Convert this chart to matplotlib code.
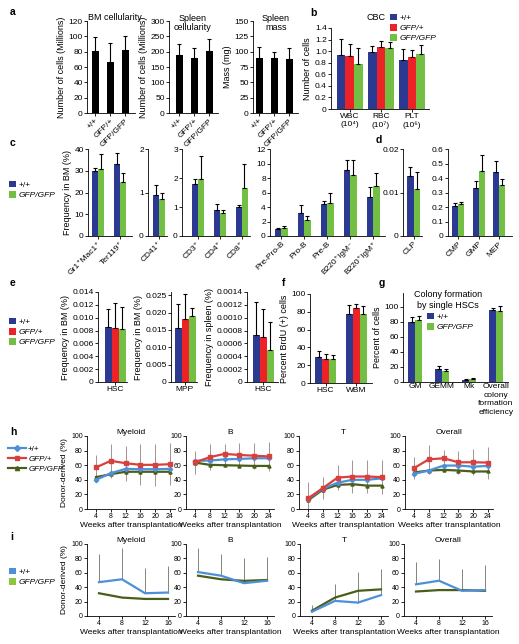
import numpy as np
import matplotlib
matplotlib.use('Agg')
from matplotlib import pyplot as plt
from matplotlib.patches import Patch
from matplotlib.lines import Line2D
from matplotlib.ticker import FuncFormatter

plt.rcParams['font.family'] = ['Liberation Sans', 'DejaVu Sans']
plt.rcParams['font.size'] = 6
plt.rcParams['axes.linewidth'] = 0.6

# ---- data ----
geno = ['+/+', 'GFP/+', 'GFP/GFP']
bm_cell = [81, 67, 82]
bm_cell_up = [99, 91, 100]
spl_cell = [189, 179, 202]
spl_cell_up = [225, 212, 241]
spl_mass = [89, 89, 88]
spl_mass_up = [107, 99, 106]

cbc_cats = ['WBC\n(10\u2074)', 'RBC\n(10\u2077)', 'PLT\n(10\u2076)']
cbc_wt = [0.93, 0.98, 0.85]
cbc_wt_up = [1.21, 1.09, 1.03]
cbc_het = [0.92, 1.07, 0.90]
cbc_het_up = [1.12, 1.17, 1.02]
cbc_hom = [0.78, 1.05, 0.95]
cbc_hom_up = [1.05, 1.15, 1.10]

myel_cats = ['Gr1\u207aMac1\u207a', 'Ter119\u207a']
myel_wt = [30.1, 33.2]
myel_wt_up = [31.2, 38.1]
myel_hom = [30.7, 25.0]
myel_hom_up = [37.8, 28.9]

mk_cats = ['CD41\u207a']
mk_wt = [0.94]
mk_wt_up = [1.17]
mk_hom = [0.86]
mk_hom_up = [1.0]

t_cats = ['CD3\u207a', 'CD4\u207a', 'CD8\u207a']
t_wt = [1.80, 0.89, 1.01]
t_wt_up = [1.97, 1.09, 1.07]
t_hom = [1.96, 0.80, 1.67]
t_hom_up = [2.77, 0.91, 2.49]

b_cats = ['Pre-Pro-B', 'Pro-B', 'Pre-B', 'B220\u207aIgM\u207b', 'B220\u207aIgM\u207a']
b_wt = [1.0, 3.2, 4.35, 9.1, 5.4]
b_wt_up = [1.16, 4.26, 4.8, 10.5, 6.7]
b_hom = [1.06, 2.22, 4.54, 8.38, 6.9]
b_hom_up = [1.43, 2.73, 5.88, 10.5, 8.75]

clp_cats = ['CLP']
clp_wt = [0.0137]
clp_wt_up = [0.0158]
clp_hom = [0.0107]
clp_hom_up = [0.0148]

prog_cats = ['CMP', 'GMP', 'MEP']
prog_wt = [0.208, 0.329, 0.44]
prog_wt_up = [0.229, 0.382, 0.514]
prog_hom = [0.218, 0.445, 0.352]
prog_hom_up = [0.236, 0.56, 0.394]

hsc_bm = [0.0086, 0.0084, 0.0083]
hsc_bm_up = [0.0113, 0.0123, 0.0117]
mpp_bm = [0.0155, 0.0181, 0.0190]
mpp_bm_up = [0.0224, 0.0253, 0.0213]
hsc_spl = [0.00073, 0.00070, 0.00050]
hsc_spl_up = [0.00124, 0.00114, 0.00093]

brdu_cats = ['HSC', 'WBM']
brdu_wt = [29.3, 77.0]
brdu_wt_up = [36.0, 87.6]
brdu_het = [27.4, 83.8]
brdu_het_up = [33.0, 88.7]
brdu_hom = [27.4, 78.0]
brdu_hom_up = [32.0, 86.8]

col_cats = ['GM', 'GEMM', 'Mk', 'Overall\ncolony\nformation\nefficiency']
col_wt = [78.9, 17.2, 3.1, 95.6]
col_wt_up = [85.9, 21.6, 4.4, 97.8]
col_hom = [82.4, 15.0, 3.5, 94.3]
col_hom_up = [87.7, 17.2, 5.3, 100.9]

weeks_h = [4, 8, 12, 16, 20, 24]
h_titles = ['Myeloid', 'B', 'T', 'Overall']
h_wt = [[40, 49, 55, 54.5, 54.5, 55],
        [66, 66.4, 68, 68.6, 69.5, 69.5],
        [13.6, 27.7, 36, 40, 40, 42],
        [48, 52.7, 59.5, 59.5, 58, 59]]
h_het = [[57, 66, 62.7, 60.5, 60.5, 61.4],
         [64, 71, 75.5, 74, 73, 72],
         [14.5, 28.6, 43, 44.5, 44.5, 43.6],
         [56, 68, 69.5, 64, 64, 63.6]]
h_hom = [[43.6, 47.7, 51, 51, 51, 51],
         [63.6, 60.5, 60, 59.5, 59, 59],
         [11.8, 26.4, 33, 34, 32, 32],
         [50, 52.7, 53.6, 52.7, 51.4, 51.4]]
h_het_err = [[17, 23, 24, 28, 29, 29],
             [16, 18, 14, 17, 18, 20],
             [23, 15, 17, 22, 22, 23],
             [15, 20, 11, 16, 18, 22]]

weeks_i = [4, 8, 12, 16]
i_wt = [[47, 51, 31.6, 32.6],
        [61, 56, 45.6, 49],
        [6, 21, 18.6, 29],
        [44, 49, 35, 36]]
i_hom = [[31.6, 25.6, 23.7, 23.7],
         [56, 51, 48.8, 50],
         [7.4, 25.6, 35, 37],
         [34, 36, 36, 35]]
i_up = [[86, 94.4, 66.5, 69],
        [95, 86.5, 81, 82],
        [15.3, 44.6, 60.5, 65],
        [74.4, 79, 65.6, 70.2]]

# ---- layout helpers (pixel boxes) ----
W, H = 519, 644
fig = plt.figure(figsize=(W / 100, H / 100), dpi=100)

BLUE, RED, GREEN = '#2b3990', '#ec2227', '#72bf44'
LBLUE, LRED, LGREEN = '#4d90d8', '#d8403e', '#4a5e1c'


def ftext(x, y, s, **kw):
    kw.setdefault('ha', 'center')
    kw.setdefault('va', 'center')
    return fig.text(x / W, 1 - y / H, s, **kw)


def px_axes(box, labelsize=6):
    l, t, r, b = box
    ax = fig.add_axes([l / W, 1 - b / H, (r - l) / W, (b - t) / H])
    for s in ('top', 'right'):
        ax.spines[s].set_visible(False)
    ax.tick_params(length=2, width=0.6, pad=1, labelsize=labelsize)
    return ax


def fmt(spec):
    return FuncFormatter(lambda v, _: '0' if abs(v) < 1e-12 else spec.format(v))


def rotate(ax):
    for lab in ax.get_xticklabels():
        lab.set_rotation(45)
        lab.set_ha('right')
        lab.set_rotation_mode('anchor')


def bar_panel(box, c0, ppu, bw, series, colors, cats, ylim, yticks, yfmt='{:g}', ylabel=None):
    l, t, r, b = box
    ax = px_axes(box)
    x = np.arange(len(cats))
    w = bw / ppu
    n = len(series)
    for i, ((m, u), c) in enumerate(zip(series, colors)):
        m = np.asarray(m, float)
        u = np.asarray(u, float)
        ax.bar(x + (i - (n - 1) / 2) * w, m, w, color=c,
               yerr=[np.zeros_like(m), u - m],
               error_kw=dict(ecolor='black', elinewidth=0.8, capsize=1.2, capthick=0.8))
    ax.set_xlim((l - c0) / ppu, (r - c0) / ppu)
    ax.set_ylim(*ylim)
    ax.set_yticks(yticks)
    ax.yaxis.set_major_formatter(fmt(yfmt))
    ax.set_xticks(x)
    ax.set_xticklabels(cats)
    if ylabel:
        ax.set_ylabel(ylabel, fontsize=6.5, labelpad=2)
    return ax


def legend(handles, labels, x, y, italic=(), **kw):
    opts = dict(loc='upper left', bbox_to_anchor=(x / W, 1 - y / H), frameon=False,
                fontsize=6, handlelength=0.8, handleheight=0.8, handletextpad=0.4,
                labelspacing=0.25, borderpad=0, borderaxespad=0)
    opts.update(kw)
    leg = fig.legend(handles, labels, **opts)
    for i in italic:
        leg.get_texts()[i].set_style('italic')
    return leg


def sq(c):
    return Patch(facecolor=c, edgecolor='none')


# ---- panel a ----
black = ['black']
ax = bar_panel((87, 21, 135, 113), 95, 15, 7, [(bm_cell, bm_cell_up)], black, geno,
               (0, 120), range(0, 121, 20), ylabel='Number of cells (Millions)')
rotate(ax)
ftext(115, 18, 'BM cellularity', fontsize=6.5)
ax = bar_panel((169, 21, 218, 113), 179, 15, 7, [(spl_cell, spl_cell_up)], black, geno,
               (0, 300), range(0, 301, 50), ylabel='Number of cells (Millions)')
rotate(ax)
ftext(193, 23, 'Spleen\ncellularity', fontsize=6.5, linespacing=1.1)
ax = bar_panel((253, 21, 298, 113), 259, 15, 7, [(spl_mass, spl_mass_up)], black, geno,
               (0, 150), range(0, 151, 25), ylabel='Mass (mg)')
rotate(ax)
ftext(276, 23, 'Spleen\nmass', fontsize=6.5, linespacing=1.1)

# ---- panel b ----
bar_panel((331, 28, 429, 109), 349.7, 31.2, 8.7,
          [(cbc_wt, cbc_wt_up), (cbc_het, cbc_het_up), (cbc_hom, cbc_hom_up)],
          [BLUE, RED, GREEN], cbc_cats, (0, 1.4), np.arange(0, 1.41, 0.2), '{:.1f}',
          ylabel='Number of cells')
ftext(376, 18, 'CBC', fontsize=6.5)
legend([sq(BLUE), sq(RED), sq(GREEN)], geno, 390, 14, italic=(1, 2))

# ---- panel c ----
ct, cb = 149, 236
rot = []
rot.append(bar_panel((88, ct, 132, cb), 98, 22, 6, [(myel_wt, myel_wt_up), (myel_hom, myel_hom_up)],
                     [BLUE, GREEN], myel_cats, (0, 40), range(0, 41, 10), ylabel='Frequency in BM (%)'))
rot.append(bar_panel((148, ct, 167, cb), 158.5, 22, 6, [(mk_wt, mk_wt_up), (mk_hom, mk_hom_up)],
                     [BLUE, GREEN], mk_cats, (0, 2), [0, 1, 2]))
rot.append(bar_panel((182, ct, 250, cb), 197.5, 22, 6, [(t_wt, t_wt_up), (t_hom, t_hom_up)],
                     [BLUE, GREEN], t_cats, (0, 3), [0, 1, 2, 3]))
rot.append(bar_panel((270, ct, 385, cb), 281, 23, 6.5, [(b_wt, b_wt_up), (b_hom, b_hom_up)],
                     [BLUE, GREEN], b_cats, (0, 12), range(0, 13, 2)))
# ---- panel d ----
rot.append(bar_panel((403, ct, 422, cb), 413.5, 22, 6.5, [(clp_wt, clp_wt_up), (clp_hom, clp_hom_up)],
                     [BLUE, GREEN], clp_cats, (0, 0.02), [0, 0.01, 0.02], '{:.2f}'))
rot.append(bar_panel((448, ct, 512, cb), 458, 20.5, 6, [(prog_wt, prog_wt_up), (prog_hom, prog_hom_up)],
                     [BLUE, GREEN], prog_cats, (0, 0.6), np.arange(0, 0.61, 0.1), '{:.1f}'))
for a in rot:
    rotate(a)
legend([sq(BLUE), sq(GREEN)], ['+/+', 'GFP/GFP'], 9, 181, italic=(1,))

# ---- panel e ----
et, eb = 292, 382
bar_panel((98, et, 127, eb), 115, 22, 7,
          [([hsc_bm[i]], [hsc_bm_up[i]]) for i in range(3)],
          [BLUE, RED, GREEN], ['HSC'], (0, 0.014), np.arange(0, 0.0141, 0.002), '{:.3f}',
          ylabel='Frequency in BM (%)')
bar_panel((171, et, 197, eb), 185, 22, 7,
          [([mpp_bm[i]], [mpp_bm_up[i]]) for i in range(3)],
          [BLUE, RED, GREEN], ['MPP'], (0, 0.0259), np.arange(0, 0.0251, 0.005), '{:.3f}',
          ylabel='Frequency in BM (%)')
bar_panel((247, et, 278, eb), 263, 22, 7,
          [([hsc_spl[i]], [hsc_spl_up[i]]) for i in range(3)],
          [BLUE, RED, GREEN], ['HSC'], (0, 0.0014), np.arange(0, 0.00141, 0.0002), '{:.4f}',
          ylabel='Frequency in spleen (%)')
legend([sq(BLUE), sq(RED), sq(GREEN)], geno, 9, 318, italic=(1, 2))

# ---- panel f ----
bar_panel((310, 294, 372, 383), 325.5, 30.5, 7,
          [(brdu_wt, brdu_wt_up), (brdu_het, brdu_het_up), (brdu_hom, brdu_hom_up)],
          [BLUE, RED, GREEN], brdu_cats, (0, 100), range(0, 101, 20),
          ylabel='Percent BrdU (+) cells')

# ---- panel g ----
ax = bar_panel((403, 293, 508, 382), 415, 27, 7,
               [(col_wt, col_wt_up), (col_hom, col_hom_up)],
               [BLUE, GREEN], col_cats, (0, 118), range(0, 101, 20),
               ylabel='Percent of cells')
ax.tick_params(axis='x', length=0)
for lab in ax.get_xticklabels():
    lab.set_va('top')
    lab.set_linespacing(1.3)
ftext(448, 300, 'Colony formation\nby single HSCs', fontsize=6.5, linespacing=1.25)
legend([sq(BLUE), sq(GREEN)], ['+/+', 'GFP/GFP'], 427, 313, italic=(1,))


# ---- panels h, i ----
def line_panel(box, x0px, ppu, x0, weeks, curves, title, ylabel):
    l, t, r, b = box
    ax = px_axes(box, labelsize=5)
    ax.set_xlim(x0 + (l - x0px) / ppu, x0 + (r - x0px) / ppu)
    ax.set_ylim(0, 100)
    ax.set_yticks(range(0, 101, 20))
    ax.set_xticks(weeks)
    for kind, ys, c, mk, extra in curves:
        if kind == 'err':
            ax.errorbar(weeks, ys, yerr=extra, fmt='none', ecolor=c, elinewidth=0.6, capsize=0, zorder=1)
        else:
            ax.plot(weeks, ys, color=c, lw=1.6, marker=mk, ms=2.2, zorder=3)
    ax.set_xlabel('Weeks after transplantation', fontsize=6, labelpad=1)
    ax.set_title(title, fontsize=6, pad=1)
    if ylabel:
        ax.set_ylabel('Donor-derived (%)', fontsize=6, labelpad=2)
    return ax


lefts_h = [87, 186, 299, 405]
for k in range(4):
    l = lefts_h[k]
    curves = [('err', h_het[k], '#9a7f7f', None, h_het_err[k]),
              ('line', h_hom[k], LGREEN, '^', None),
              ('line', h_wt[k], LBLUE, 'D', None),
              ('line', h_het[k], LRED, 's', None)]
    line_panel((l, 436, l + 88, 509), l + 9, 3.7, 4, weeks_h, curves, h_titles[k], k == 0)
legend([Line2D([], [], color=LBLUE, lw=1.6, marker='D', ms=3),
        Line2D([], [], color=LRED, lw=1.6, marker='s', ms=3),
        Line2D([], [], color=LGREEN, lw=1.6, marker='^', ms=3)],
       geno, 8, 445, italic=(1, 2), handlelength=2.2, handletextpad=0.3, fontsize=5.8)

lefts_i = [87, 186, 300, 404]
for k in range(4):
    l = lefts_i[k]
    up = np.array(i_up[k]) - np.array(i_wt[k])
    curves = [('err', i_wt[k], '#6f7360', None, [np.zeros(4), up]),
              ('line', i_hom[k], LGREEN, None, None),
              ('line', i_wt[k], LBLUE, None, None)]
    line_panel((l, 544, l + 88, 616), l + 12, 5.75, 4, weeks_i, curves, h_titles[k], k == 0)
legend([sq(LBLUE), sq('#8cc63f')], ['+/+', 'GFP/GFP'], 9, 568, italic=(1,))

# ---- panel letters ----
for s, x, y in [('a', 10, 12), ('b', 310, 13), ('c', 10, 143), ('d', 376, 140),
                ('e', 10, 283), ('f', 282, 283), ('g', 379, 283), ('h', 10, 432), ('i', 10, 537)]:
    ftext(x, y, s, fontsize=7.5, fontweight='bold', ha='left')

fig.savefig('out.png', dpi=100, facecolor='white')
